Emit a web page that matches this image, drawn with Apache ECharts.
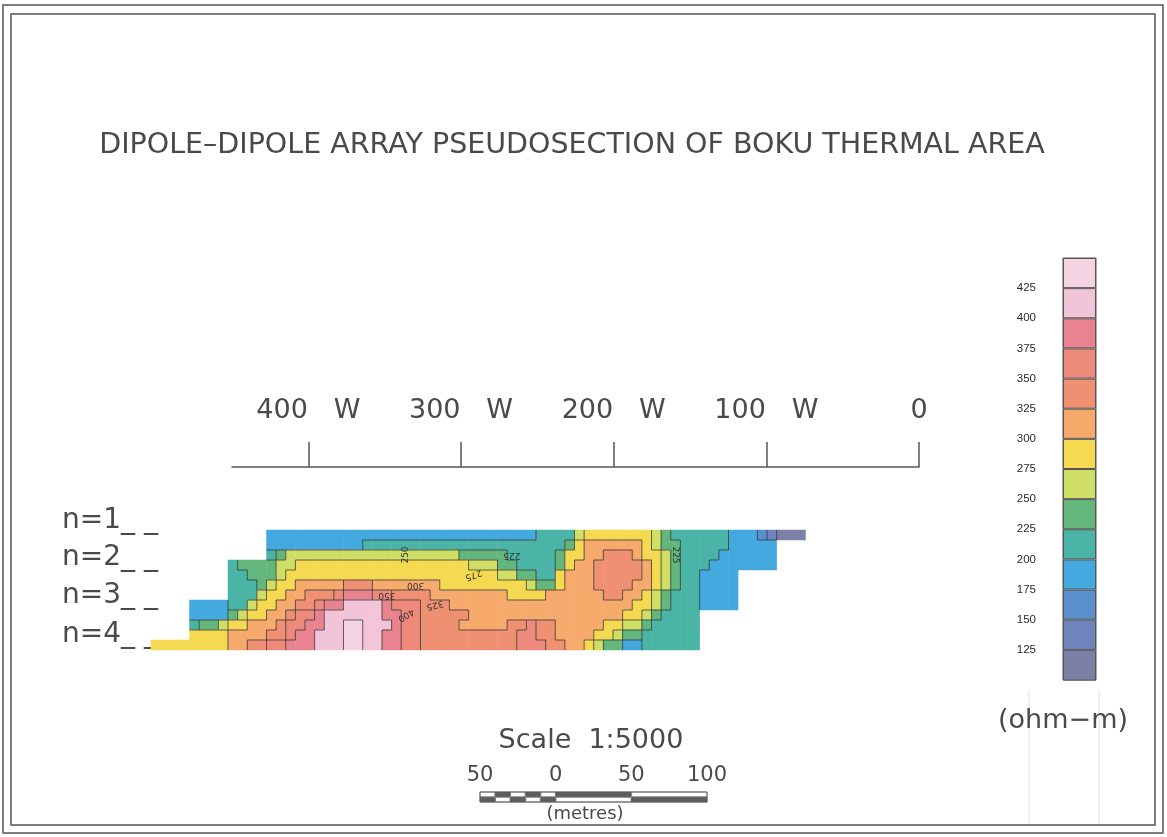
<!DOCTYPE html>
<html>
<head>
<meta charset="utf-8">
<title>Dipole-dipole pseudosection, Boku thermal area</title>
<script src="https://cdn.jsdelivr.net/npm/echarts@6.0.0/dist/echarts.min.js"></script>
<style>
  html, body { margin: 0; padding: 0; background: #fff; }
  #chart { width: 1167px; height: 837px; }
</style>
</head>
<body>
<div id="chart"></div>
<script>
// apparent resistivity (ohm-m) read off the pseudosection
// one column = 6.25 m along the line, one row = a tenth of the n=1..4 depth range
const _ = null
const row0 = [_, _, _, _, _, _, _, _, _, _, _, _,
  188, 188, 188, 188, 188, 188, 188, 188, 188, 188, 188, 188, 188, 188,
  188, 188, 188, 188, 188, 188, 188, 188, 188, 188, 188, 188, 188, 188,
  212, 212, 212, 212, 262, 288, 288, 288, 288, 288, 288, 288,
  262, 238, 212, 212, 212, 212, 212, 212, 188, 188, 188, 162,
  138, 115, 115, 115]
const row1 = [_, _, _, _, _, _, _, _, _, _, _, _,
  188, 188, 188, 188, 188, 188, 188, 188, 188, 188, 212, 212, 212, 212,
  212, 212, 212, 212, 212, 212, 212, 212, 212, 212, 212, 212, 212, 212,
  212, 212, 212, 238, 288, 312, 312, 312, 312, 312, 312, 288,
  262, 238, 238, 212, 212, 212, 212, 212, 188, 188, 188, 188,
  188, _, _, _]
const row2 = [_, _, _, _, _, _, _, _, _, _, _, _,
  212, 238, 262, 262, 262, 262, 262, 262, 262, 262, 262, 262,
  262, 262, 262, 262, 262, 262, 262, 262, 238, 238, 238, 238,
  238, 212, 212, 212, 212, 212, 238, 288, 288, 312, 312, 338,
  338, 338, 312, 288, 288, 262, 238, 212, 212, 212, 212, 188,
  188, 188, 188, 188, 188, _, _, _]
const row3 = [_, _, _, _, _, _, _, _,
  212, 238, 238, 238, 238, 262, 262, 288,
  288, 288, 288, 288, 288, 288, 288, 288, 288, 288, 288, 288, 288, 288, 288, 288,
  288, 262, 262, 262, 238, 238, 212, 212, 212, 212, 238, 288,
  312, 312, 338, 338, 338, 338, 338, 312, 288, 262, 238, 212,
  212, 212, 188, 188, 188, 188, 188, 188, 188, _, _, _]
const row4 = [_, _, _, _, _, _, _, _,
  212, 212, 238, 238, 238, 262, 288, 288,
  288, 288, 288, 288, 288, 288, 288, 288, 288, 288, 288, 288, 288, 288, 288, 288,
  288, 288, 288, 288, 262, 262, 238, 238, 212, 212, 288, 312,
  312, 312, 338, 338, 338, 338, 338, 312, 288, 262, 238, 212,
  212, 188, 188, 188, 188, _, _, _, _, _, _, _]
const row5 = [_, _, _, _, _, _, _, _,
  212, 212, 212, 238, 262, 288, 288, 312,
  312, 312, 312, 312, 338, 338, 338, 312, 312, 312, 312, 312, 312, 312, 288, 288,
  288, 288, 288, 288, 288, 288, 288, 262, 238, 238, 288, 312,
  312, 312, 338, 338, 338, 338, 312, 312, 288, 262, 238, 212,
  212, 188, 188, 188, 188, _, _, _, _, _, _, _]
const row6 = [_, _, _, _, _, _, _, _,
  212, 212, 212, 262, 288, 288, 312, 312,
  338, 338, 338, 362, 388, 388, 388, 362, 362, 338, 338, 338, 338, 312, 312, 312,
  312, 312, 312, 312, 312, 288, 288, 288, 288, 312, 312, 312,
  312, 312, 312, 338, 338, 312, 312, 288, 262, 238, 212, 212,
  212, 188, 188, 188, 188, _, _, _, _, _, _, _]
const row7 = [_, _, _, _, 188, 188, 188, 188,
  212, 212, 262, 288, 288, 312, 312, 338,
  338, 362, 388, 388, 412, 412, 412, 412, 388, 362, 362, 362, 338, 338, 338, 312,
  312, 312, 312, 312, 312, 312, 312, 312, 312, 312, 312, 312, 312, 312, 312, 312,
  312, 312, 288, 288, 262, 238, 212, 212, 212, 188, 188, 188,
  188, _, _, _, _, _, _, _]
const row8 = [_, _, _, _, 188, 188, 188, 188,
  238, 262, 288, 288, 312, 312, 338, 362,
  362, 388, 412, 412, 412, 412, 412, 412, 388, 388, 362, 362, 338, 338, 338, 338,
  338, 312, 312, 312, 312, 312, 312, 312, 312, 312, 312, 312, 312, 312, 312, 312,
  312, 288, 288, 262, 238, 212, 212, 212, 212, _, _, _,
  _, _, _, _, _, _, _, _]
const row9 = [_, _, _, _, 212, 238, 238, 262,
  288, 288, 312, 312, 312, 338, 362, 362,
  388, 388, 412, 412, 440, 440, 412, 412, 412, 388, 362, 362, 338, 338, 338, 338,
  312, 312, 312, 312, 312, 338, 338, 362, 338, 338, 312, 312, 312, 312, 312, 288,
  288, 262, 262, 238, 212, 212, 212, 212, 212, _, _, _,
  _, _, _, _, _, _, _, _]
const row10 = [_, _, _, _, 288, 288, 288, 288,
  312, 312, 312, 312, 338, 338, 362, 388,
  388, 412, 412, 412, 440, 440, 412, 412, 388, 388, 362, 362, 338, 338, 338, 338,
  338, 338, 338, 338, 338, 338, 362, 362, 338, 338, 312, 312, 312, 312, 288, 288,
  262, 238, 238, 212, 212, 212, 212, 212, 212, _, _, _,
  _, _, _, _, _, _, _, _]
const row11 = [288, 288, 288, 288, 288, 288, 288, 288,
  312, 312, 338, 338, 362, 362, 388, 388,
  388, 412, 412, 412, 440, 440, 412, 412, 388, 388, 362, 362, 338, 338, 338, 338,
  338, 338, 338, 338, 338, 338, 362, 362, 362, 338, 338, 312, 312, 288, 262, 238,
  238, 188, 188, 212, 212, 212, 212, 212, 212, _, _, _,
  _, _, _, _, _, _, _, _]
const rows = [row0, row1, row2, row3, row4, row5, row6, row7, row8, row9, row10, row11]

// station axis (metres west of 0)
const stations = [0, 100, 200, 300, 400]
const nLevels = ['n=1_ _', 'n=2_ _', 'n=3_ _', 'n=4_ _']

// contour labels written along the lines: [text, column, row, angle in degrees]
const contourLabels = [
  ['225', 36.5, 1.8, 180], ['275', 33, 3.9, 200], ['300', 26.5, 5.1, 180],
  ['325', 28.5, 6.5, 195], ['350', 23.5, 5.9, 180], ['400', 25.5, 7.7, 210],
  ['250', 25.5, 2.2, 90], ['225', 53.8, 1.8, -90]
]

// colour scale, ohm-m
const bandEdges = [125, 150, 175, 200, 225, 250, 275, 300, 325, 350, 375, 400, 425]
const bandColors = ['#7d80a6', '#6f84bc', '#5a90cd', '#43a9de', '#4ab4a7', '#63b77d', '#cfdf66',
  '#f5d950', '#f6aa6c', '#ef9073', '#ee8a7c', '#e8838f', '#f2c4d8', '#f6d3e3']

// scale bar: segment lengths in metres (left part split in 10 m pieces) and shading
const scaleTicks = [-50, 0, 50, 100]
const scaleSegments = [-10, -10, -10, -10, -10, 50, 50]
const upperDark = [false, true, false, true, false, true, false]
const lowerDark = [true, false, true, false, true, false, true]

const GRAY = '#4a4a4a'
const PLOT_FONT = '"DejaVu Sans", sans-serif'

function bandOf (v) {
  let b = 0
  bandEdges.forEach(e => { if (v >= e) b++ })
  return b
}

let cells = []
rows.forEach((row, r) => {
  row.forEach((v, c) => {
    if (v !== null) cells.push([c, r, v])
  })
})

let pieces = [{ lt: bandEdges[0], color: bandColors[0] }]
for (let i = 1; i < bandEdges.length; i++) {
  pieces.push({ gte: bandEdges[i - 1], lt: bandEdges[i], color: bandColors[i] })
}
pieces.push({ gte: bandEdges[bandEdges.length - 1], color: bandColors[bandColors.length - 1] })

// contour lines: edges between cells that fall in different bands
function renderContour (params, api) {
  const c = api.value(0)
  const r = api.value(1)
  const p = api.coord([c, r])
  const s = api.size([1, 1])
  const x0 = p[0] - s[0] / 2
  const y0 = p[1] - s[1] / 2
  const x1 = x0 + s[0]
  const y1 = y0 + s[1]
  const b = bandOf(rows[r][c])
  const style = { stroke: '#333', lineWidth: 1, opacity: 0.75 }
  let children = []
  const right = rows[r][c + 1]
  if (right !== null && right !== undefined && bandOf(right) !== b) {
    children.push({ type: 'line', shape: { x1: x1, y1: y0, x2: x1, y2: y1 }, style: style })
  }
  const below = rows[r + 1] ? rows[r + 1][c] : null
  if (below !== null && below !== undefined && bandOf(below) !== b) {
    children.push({ type: 'line', shape: { x1: x0, y1: y1, x2: x1, y2: y1 }, style: style })
  }
  return { type: 'group', children: children }
}

function renderContourLabel (params, api) {
  const lab = contourLabels[params.dataIndex]
  const p = api.coord([api.value(0), api.value(1)])
  return {
    type: 'text',
    x: p[0],
    y: p[1],
    rotation: lab[3] * Math.PI / 180,
    style: { text: lab[0], font: '9px "DejaVu Sans"', fill: '#333', align: 'center', verticalAlign: 'middle' }
  }
}

// colour bar blocks, stacked from 0 (the axis starts at 100)
const barTops = [0].concat(bandEdges, [450])
let colorBarSeries = bandColors.map((col, i) => ({
  type: 'bar',
  xAxisIndex: 2,
  yAxisIndex: 2,
  stack: 'bar',
  barWidth: '100%',
  silent: true,
  data: [barTops[i + 1] - barTops[i]],
  itemStyle: { color: col, borderColor: '#555', borderWidth: 1 }
}))

let scaleSeries = scaleSegments.map((len, i) => ({
  type: 'bar',
  xAxisIndex: 3,
  yAxisIndex: 3,
  stack: 'scale',
  barWidth: '100%',
  silent: true,
  data: [
    { value: len, itemStyle: { color: lowerDark[i] ? '#5e5e5e' : '#fff' } },
    { value: len, itemStyle: { color: upperDark[i] ? '#5e5e5e' : '#fff' } }
  ],
  itemStyle: { borderColor: '#444', borderWidth: 0.6 }
}))

function txt (text, x, y, size, align) {
  return {
    type: 'text', x: x, y: y, silent: true,
    style: { text: text, font: size + 'px ' + PLOT_FONT, fill: GRAY, align: align || 'center', verticalAlign: 'middle' }
  }
}

let graphics = [
  { type: 'rect', silent: true, shape: { x: 3, y: 5, width: 1160, height: 828 }, style: { fill: 'none', stroke: '#555', lineWidth: 1.5 } },
  { type: 'rect', silent: true, shape: { x: 11, y: 14, width: 1144, height: 811 }, style: { fill: 'none', stroke: '#555', lineWidth: 1.5 } },
  { type: 'line', silent: true, shape: { x1: 1029, y1: 690, x2: 1029, y2: 824 }, style: { stroke: '#e2e2e2', lineWidth: 1 } },
  { type: 'line', silent: true, shape: { x1: 1099, y1: 690, x2: 1099, y2: 824 }, style: { stroke: '#e2e2e2', lineWidth: 1 } },
  txt('DIPOLE–DIPOLE ARRAY PSEUDOSECTION OF BOKU THERMAL AREA', 572, 146, 28.5),
  txt('Scale  1:5000', 591, 741, 27),
  txt('(metres)', 585, 814, 18),
  txt('(ohm−m)', 1063, 721, 27)
]
const nY = [521, 558, 596, 635]
nLevels.forEach((t, i) => graphics.push(txt(t, 62, nY[i], 28, 'left')))

const chart = echarts.init(document.getElementById('chart'))
chart.setOption({
  animation: false,
  backgroundColor: '#fff',
  grid: [
    { left: 232, top: 457, width: 687, height: 10 },
    { left: 151, top: 530, width: 654.5, height: 120 },
    { left: 1063, top: 258, width: 33, height: 422, show: true, borderColor: '#555', borderWidth: 1 },
    { left: 480, top: 792, width: 227, height: 10, show: true, borderColor: '#444', borderWidth: 1 }
  ],
  xAxis: [
    {
      gridIndex: 0, type: 'value', min: 0, max: 450, inverse: true, position: 'top',
      axisLine: { lineStyle: { color: '#555', width: 1.5 } },
      axisTick: { customValues: stations, length: 25, lineStyle: { color: '#555', width: 1.5 } },
      axisLabel: {
        customValues: stations, margin: 33, fontSize: 27, fontFamily: 'DejaVu Sans', color: GRAY,
        formatter: v => (v === 0 ? '0' : v + '   W')
      },
      splitLine: { show: false }
    },
    { gridIndex: 1, type: 'category', data: row0.map((v, i) => i), show: false },
    { gridIndex: 2, type: 'category', data: ['ohm-m'], show: false },
    {
      gridIndex: 3, type: 'value', min: -50, max: 100, position: 'top',
      axisLine: { show: false }, axisTick: { show: false }, splitLine: { show: false },
      axisLabel: {
        customValues: scaleTicks, margin: 6, fontSize: 21, fontFamily: 'DejaVu Sans', color: GRAY,
        formatter: v => String(Math.abs(v))
      }
    }
  ],
  yAxis: [
    { gridIndex: 0, type: 'value', show: false },
    { gridIndex: 1, type: 'category', data: rows.map((r, i) => i), inverse: true, show: false },
    {
      gridIndex: 2, type: 'value', min: 100, max: 450, interval: 25,
      axisLine: { show: false }, axisTick: { show: false }, splitLine: { show: false },
      axisLabel: { customValues: bandEdges, margin: 27, fontSize: 11.5, fontFamily: 'Liberation Sans', color: '#2a2a2a' }
    },
    { gridIndex: 3, type: 'category', data: ['lower', 'upper'], show: false }
  ],
  visualMap: {
    type: 'piecewise', show: false, seriesIndex: 0, dimension: 2, pieces: pieces
  },
  series: [
    {
      type: 'heatmap',
      xAxisIndex: 1,
      yAxisIndex: 1,
      data: cells,
      silent: true,
      itemStyle: { borderWidth: 0 }
    },
    {
      type: 'custom',
      xAxisIndex: 1,
      yAxisIndex: 1,
      data: cells,
      silent: true,
      z: 5,
      renderItem: renderContour
    },
    {
      type: 'custom',
      xAxisIndex: 1,
      yAxisIndex: 1,
      data: contourLabels.map(l => [l[1], l[2]]),
      silent: true,
      z: 6,
      renderItem: renderContourLabel
    }
  ].concat(colorBarSeries, scaleSeries),
  graphic: graphics
})
</script>
</body>
</html>
